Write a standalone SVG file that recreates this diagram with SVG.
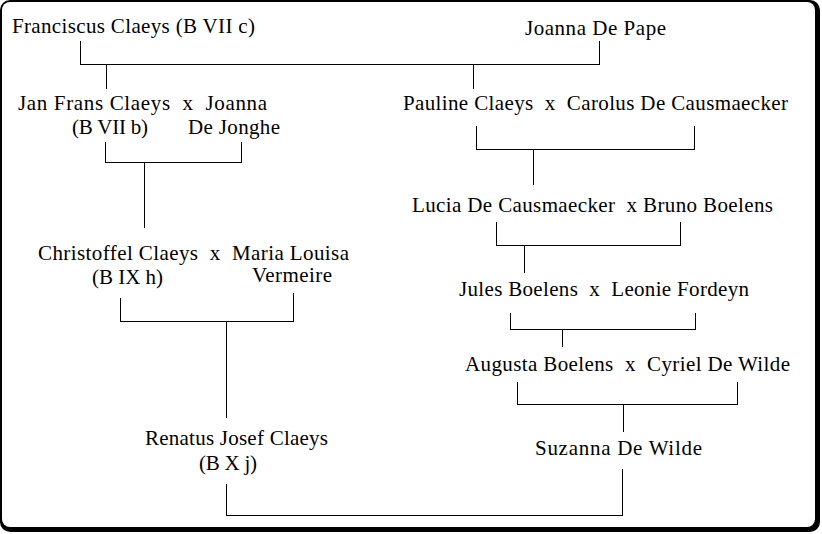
<svg xmlns="http://www.w3.org/2000/svg" width="822" height="534" viewBox="0 0 822 534">
<style>
text{font-family:"Liberation Serif","Times New Roman",serif;font-size:21px;fill:#000;white-space:pre}
.c line,.c polyline{stroke:#000;stroke-width:1;fill:none;shape-rendering:crispEdges}
</style>
<rect x="0" y="0" width="820" height="532" rx="10" fill="#000"/>
<rect x="2" y="2" width="813" height="525" rx="8" fill="#fff"/>
<g class="c" id="connectors">
<polyline points="80.5,41 80.5,64.5 599.5,64.5 599.5,41"/>
<line x1="106.5" y1="64.5" x2="106.5" y2="89"/>
<line x1="473.5" y1="64.5" x2="473.5" y2="89"/>
<polyline points="105.5,142 105.5,162.5 241.5,162.5 241.5,142"/>
<line x1="144.5" y1="162.5" x2="144.5" y2="228"/>
<polyline points="476.5,126 476.5,149.5 694.5,149.5 694.5,126"/>
<line x1="533.5" y1="149.5" x2="533.5" y2="185"/>
<polyline points="496.5,222 496.5,245.5 680.5,245.5 680.5,222"/>
<line x1="524.5" y1="245.5" x2="524.5" y2="273"/>
<polyline points="510.5,313 510.5,329.5 695.5,329.5 695.5,313"/>
<line x1="562.5" y1="329.5" x2="562.5" y2="347"/>
<polyline points="120.5,298 120.5,321.5 293.5,321.5 293.5,293"/>
<line x1="226.5" y1="321.5" x2="226.5" y2="418"/>
<polyline points="517.5,382 517.5,404.5 737.5,404.5 737.5,382"/>
<line x1="623.5" y1="404.5" x2="623.5" y2="432"/>
<polyline points="622.5,469 622.5,515.5 226.5,515.5 226.5,484"/>
</g>
<g id="franciscus"><text x="12" y="33" textLength="243">Franciscus Claeys (B VII c)</text></g>
<g id="joanna-de-pape"><text x="525" y="35" textLength="141">Joanna De Pape</text></g>
<g id="jan-frans"><text x="18" y="110" textLength="249">Jan Frans Claeys  x  Joanna</text><text x="72" y="134" textLength="76">(B VII b)</text><text x="188" y="134" textLength="92">De Jonghe</text></g>
<g id="pauline"><text x="403" y="110" textLength="385">Pauline Claeys  x  Carolus De Causmaecker</text></g>
<g id="lucia"><text x="412" y="212" textLength="361">Lucia De Causmaecker  x Bruno Boelens</text></g>
<g id="christoffel"><text x="38" y="260" textLength="311">Christoffel Claeys  x  Maria Louisa</text><text x="92" y="284" textLength="71">(B IX h)</text><text x="252" y="282" textLength="80">Vermeire</text></g>
<g id="jules"><text x="459" y="296" textLength="290">Jules Boelens  x  Leonie Fordeyn</text></g>
<g id="augusta"><text x="465" y="371" textLength="325">Augusta Boelens  x  Cyriel De Wilde</text></g>
<g id="renatus"><text x="145" y="445" textLength="183">Renatus Josef Claeys</text><text x="199" y="470" textLength="58">(B X j)</text></g>
<g id="suzanna"><text x="535" y="455" textLength="167">Suzanna De Wilde</text></g>
</svg>
